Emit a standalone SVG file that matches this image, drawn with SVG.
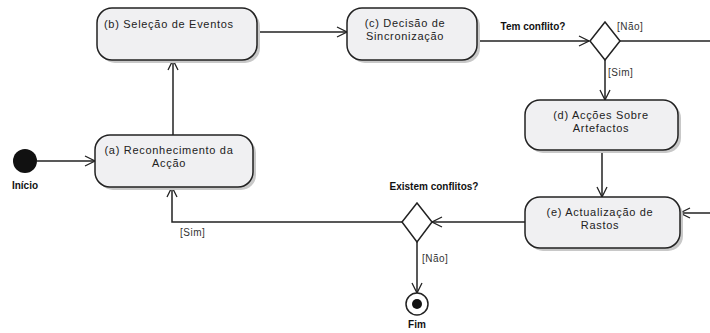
<svg xmlns="http://www.w3.org/2000/svg" width="710" height="333" viewBox="0 0 710 333">
<defs>
<marker id="arr" viewBox="0 0 12 12" refX="11" refY="6" markerWidth="12" markerHeight="12" markerUnits="userSpaceOnUse" orient="auto">
<path d="M1,1 L11,6 L1,11" fill="none" stroke="#222" stroke-width="1.3"/>
</marker>
</defs>
<style>
.node{fill:#f0f0f2;stroke:#222;stroke-width:1.5}
.shadow{fill:#c8c8c8}
.t{font-family:"Liberation Sans",Arial,sans-serif;font-size:11px;fill:#222;letter-spacing:0.7px}
.b{font-family:"Liberation Sans",Arial,sans-serif;font-size:10px;font-weight:bold;fill:#111}
.g{font-family:"Liberation Sans",Arial,sans-serif;font-size:10px;fill:#333;letter-spacing:0.5px}
.c{fill:none;stroke:#222;stroke-width:1.5}
</style>
<rect width="710" height="333" fill="#fff"/>
<g id="connectors">
<path class="c" d="M37,161 H95" marker-end="url(#arr)"/>
<path class="c" d="M173,135 V60" marker-end="url(#arr)"/>
<path class="c" d="M257,32 H347" marker-end="url(#arr)"/>
<path class="c" d="M477,41 H589" marker-end="url(#arr)"/>
<path class="c" d="M620,41 H710"/>
<path class="c" d="M605,60 V100" marker-end="url(#arr)"/>
<path class="c" d="M602,150 V197" marker-end="url(#arr)"/>
<path class="c" d="M710,213 H680" marker-end="url(#arr)"/>
<path class="c" d="M525,222 H432" marker-end="url(#arr)"/>
<path class="c" d="M402,222 H172 V187" marker-end="url(#arr)"/>
<path class="c" d="M417,242 V293" marker-end="url(#arr)"/>
<text class="g" x="617" y="30">[Não]</text>
<text class="g" x="608" y="76">[Sim]</text>
<text class="g" x="180" y="236">[Sim]</text>
<text class="g" x="422" y="262">[Não]</text>
<text class="b" x="533" y="30" text-anchor="middle">Tem conflito?</text>
<text class="b" x="434" y="190" text-anchor="middle">Existem conflitos?</text>
</g>
<g id="inicio">
<circle cx="25" cy="161" r="12" fill="#111"/>
<text class="b" x="25" y="189" text-anchor="middle">Início</text>
</g>
<g id="a">
<rect class="shadow" x="98" y="138" width="158" height="52" rx="15"/>
<rect class="node" x="95" y="135" width="158" height="52" rx="15"/>
<text class="t" x="169" y="154" text-anchor="middle">(a) Reconhecimento da</text>
<text class="t" x="169" y="167" text-anchor="middle">Acção</text>
</g>
<g id="b">
<rect class="shadow" x="100" y="11" width="160" height="52" rx="15"/>
<rect class="node" x="97" y="8" width="160" height="52" rx="15"/>
<text class="t" x="104" y="28">(b) Seleção de Eventos</text>
</g>
<g id="c">
<rect class="shadow" x="350" y="11" width="130" height="52" rx="15"/>
<rect class="node" x="347" y="8" width="130" height="52" rx="15"/>
<text class="t" x="405" y="27" text-anchor="middle">(c) Decisão de</text>
<text class="t" x="405" y="40" text-anchor="middle">Sincronização</text>
</g>
<g id="decisao1">
<path class="node" fill="#fff" style="fill:#fff" d="M605,22 L620,41 L605,60 L590,41 Z"/>
</g>
<g id="d">
<rect class="shadow" x="528" y="103" width="153" height="50" rx="15"/>
<rect class="node" x="525" y="100" width="153" height="50" rx="15"/>
<text class="t" x="601" y="119" text-anchor="middle">(d) Acções Sobre</text>
<text class="t" x="601" y="132" text-anchor="middle">Artefactos</text>
</g>
<g id="e">
<rect class="shadow" x="528" y="200" width="155" height="51" rx="15"/>
<rect class="node" x="525" y="197" width="155" height="51" rx="15"/>
<text class="t" x="600" y="216" text-anchor="middle">(e) Actualização de</text>
<text class="t" x="600" y="229" text-anchor="middle">Rastos</text>
</g>
<g id="decisao2">
<path class="node" style="fill:#fff" d="M417,203 L432,222 L417,242 L402,222 Z"/>
</g>
<g id="fim">
<circle cx="417" cy="304" r="11" fill="#fff" stroke="#222" stroke-width="1.5"/>
<circle cx="417" cy="304" r="5" fill="#111"/>
<text class="b" x="417" y="328" text-anchor="middle">Fim</text>
</g>
</svg>
